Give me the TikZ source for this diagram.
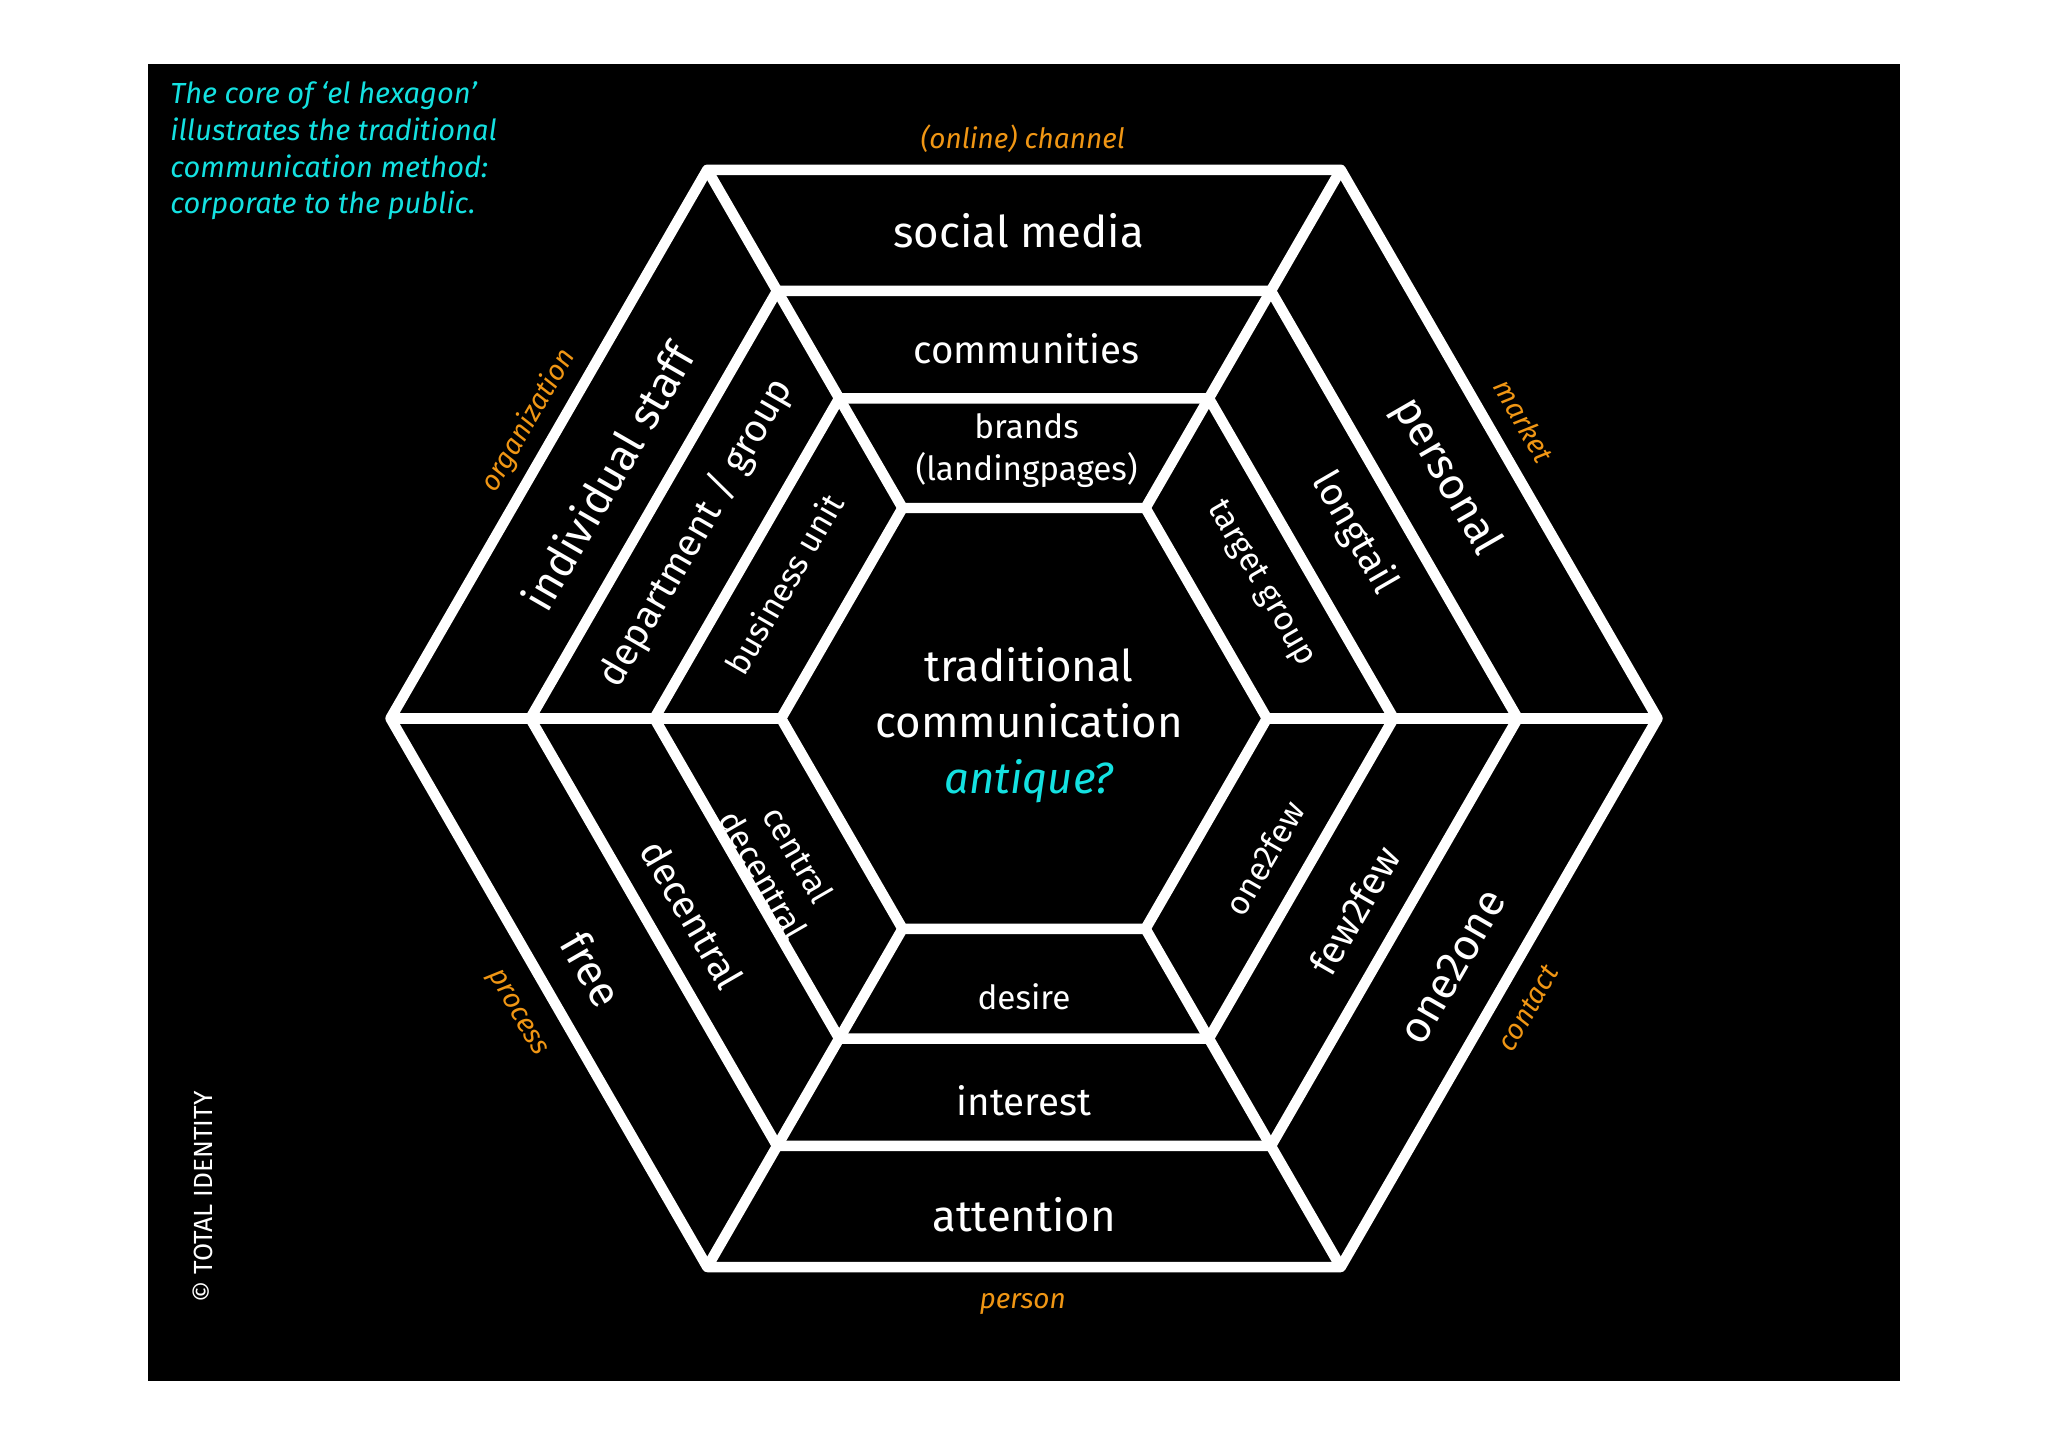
\documentclass[tikz,border=0pt]{standalone}
\usepackage{fontspec}
\setmainfont{Fira Sans}
\usetikzlibrary{calc}
\definecolor{turq}{RGB}{20,225,225}
\definecolor{orng}{RGB}{240,150,20}
\begin{document}
\begin{tikzpicture}[x=0.013128cm,y=-0.013128cm,
  hexl/.style={draw=white,line width=3pt,line join=round},
  seg/.style={text=white,align=center,inner sep=0pt},
  dim/.style={text=orng,font=\itshape\fontsize{8}{9}\selectfont,inner sep=0pt}]
\useasboundingbox (0,0) rectangle (1568,1108);
\fill[white] (0,0) rectangle (1568,1108);
\fill[black] (113,49) rectangle (1455,1057);
\coordinate (c) at (784,550);
\foreach \r/\n in {485/a,378/b,283/c,186/d}{
  \draw[hexl] ($(c)+(\r,0)$) \foreach \k in {1,...,5}{ -- ($(c)+({\r*cos(60*\k)},{\r*sin(60*\k)})$)} -- cycle;
}
\foreach \k in {0,...,5}{
  \draw[hexl] ($(c)+({186*cos(60*\k)},{186*sin(60*\k)})$) -- ($(c)+({485*cos(60*\k)},{485*sin(60*\k)})$);
}
\node[seg,font=\fontsize{12.5}{14}\selectfont] (sm) at (780,177) {social media};
\node[seg,font=\fontsize{11}{13}\selectfont] (cm) at (786,267) {communities};
\node[seg,font=\fontsize{9.5}{12}\selectfont] (br) at (786,345) {brands\\(landingpages)};
\node[seg,font=\fontsize{12.5}{14}\selectfont] (at) at (784,930) {attention};
\node[seg,font=\fontsize{11}{13}\selectfont] (in) at (784,843) {interest};
\node[seg,font=\fontsize{9.5}{12}\selectfont] (de) at (784,763) {desire};
\node[seg,font=\fontsize{12.5}{14}\selectfont,rotate=60] (is) at (465,365) {individual staff};
\node[seg,font=\fontsize{11}{13}\selectfont,rotate=60] (dg) at (533,408) {department / group};
\node[seg,font=\fontsize{9.5}{12}\selectfont,rotate=60] (bu) at (600,447) {business unit};
\node[seg,font=\fontsize{12.5}{14}\selectfont,rotate=-60] (pe) at (1107,365) {personal};
\node[seg,font=\fontsize{11}{13}\selectfont,rotate=-60] (lt) at (1037,408) {longtail};
\node[seg,font=\fontsize{9.5}{12}\selectfont,rotate=-60] (tg) at (965,447) {target group};
\node[seg,font=\fontsize{12.5}{14}\selectfont,rotate=60] (oo) at (1112,740) {one2one};
\node[seg,font=\fontsize{11}{13}\selectfont,rotate=60] (ff) at (1037,697) {few2few};
\node[seg,font=\fontsize{9.5}{12}\selectfont,rotate=60] (of) at (968,657) {one2few};
\node[seg,font=\fontsize{12.5}{14}\selectfont,rotate=-60] (fr) at (453,742) {free};
\node[seg,font=\fontsize{11}{13}\selectfont,rotate=-60] (dc) at (530,700) {decentral};
\node[seg,font=\fontsize{9.5}{11.5}\selectfont,rotate=-60,text width=60pt] (cd) at (598,662) {central\\decentral};
\node[seg,font=\fontsize{12.5}{16}\selectfont] (tc) at (788,555) {traditional\\communication\\{\color{turq}\itshape antique?}};
\node[dim] (o1) at (783,106) {(online) channel};
\node[dim,rotate=60] (o2) at (405,322) {organization};
\node[dim,rotate=-60] (o3) at (1167,322) {market};
\node[dim,rotate=60] (o4) at (1170,772) {contact};
\node[dim,rotate=-60] (o5) at (395,776) {process};
\node[dim] (o6) at (783,998) {person};
\node[text=turq,font=\itshape\fontsize{8.3}{10.5}\selectfont,align=left,anchor=north west,inner sep=0pt] (note) at (130,62) {The core of ‘el hexagon’\\illustrates the traditional\\communication method:\\corporate to the public.};
\node[text=white,font=\fontsize{7.5}{8}\selectfont,rotate=90,anchor=west,inner sep=0pt] (ti) at (155,998) {© TOTAL IDENTITY};
\end{tikzpicture}
\end{document}
